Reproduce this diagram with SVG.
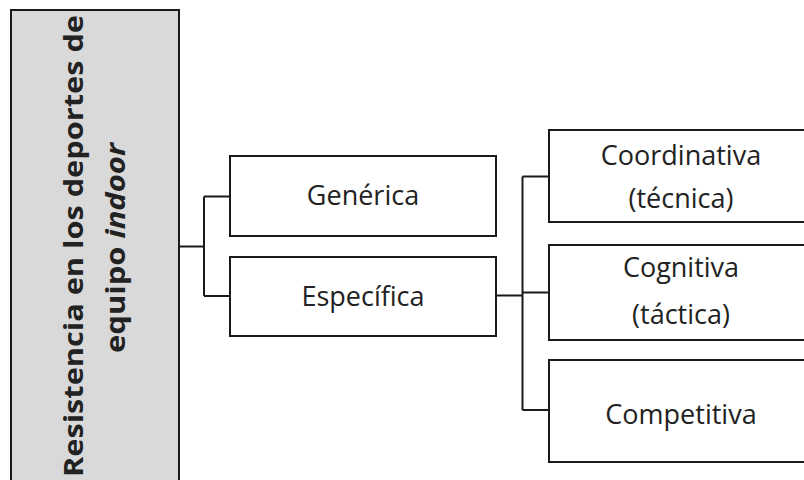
<svg xmlns="http://www.w3.org/2000/svg" width="804" height="480" viewBox="0 0 804 480">
<style>
.box{fill:#fff;stroke:#1a1a1a;stroke-width:2}
.main{fill:#d9d9d9;stroke:#1a1a1a;stroke-width:2}
.t{font-family:"Open Sans","Liberation Sans",sans-serif;font-size:27px;fill:#222;text-anchor:middle}
.m{font-family:"Open Sans","Liberation Sans",sans-serif;font-size:27px;font-weight:bold;fill:#222;text-anchor:middle}
.c{fill:none;stroke:#1a1a1a;stroke-width:2}
</style>
<rect width="804" height="480" fill="#fff"/>
<g id="connectors">
<path class="c" d="M179 246.5H204M204 196.5V296M204 196.5H230M204 296H230"/>
<path class="c" d="M496 295.5H522.5M522.5 176.5V410M522.5 176.5H549M522.5 292.5H549M522.5 410H549"/>
</g>
<g id="main">
<rect class="main" x="11" y="10" width="168" height="490"/>
<text class="m" transform="translate(83,246) rotate(-90)" textLength="462" lengthAdjust="spacingAndGlyphs">Resistencia en los deportes de</text>
<text class="m" transform="translate(125,248) rotate(-90)" textLength="210" lengthAdjust="spacingAndGlyphs">equipo <tspan font-style="italic">indoor</tspan></text>
</g>
<g id="generica">
<rect class="box" x="230" y="156" width="266" height="80"/>
<text class="t" x="363" y="205">Genérica</text>
</g>
<g id="especifica">
<rect class="box" x="230" y="257" width="266" height="79"/>
<text class="t" x="363" y="305.5">Específica</text>
</g>
<g id="coordinativa">
<rect class="box" x="549" y="130" width="270" height="92"/>
<text class="t" x="681" y="164.5">Coordinativa</text>
<text class="t" x="681" y="207.5">(técnica)</text>
</g>
<g id="cognitiva">
<rect class="box" x="549" y="245" width="270" height="95"/>
<text class="t" x="681" y="277">Cognitiva</text>
<text class="t" x="681" y="323.5">(táctica)</text>
</g>
<g id="competitiva">
<rect class="box" x="549" y="360" width="270" height="102"/>
<text class="t" x="681" y="424">Competitiva</text>
</g>
</svg>
